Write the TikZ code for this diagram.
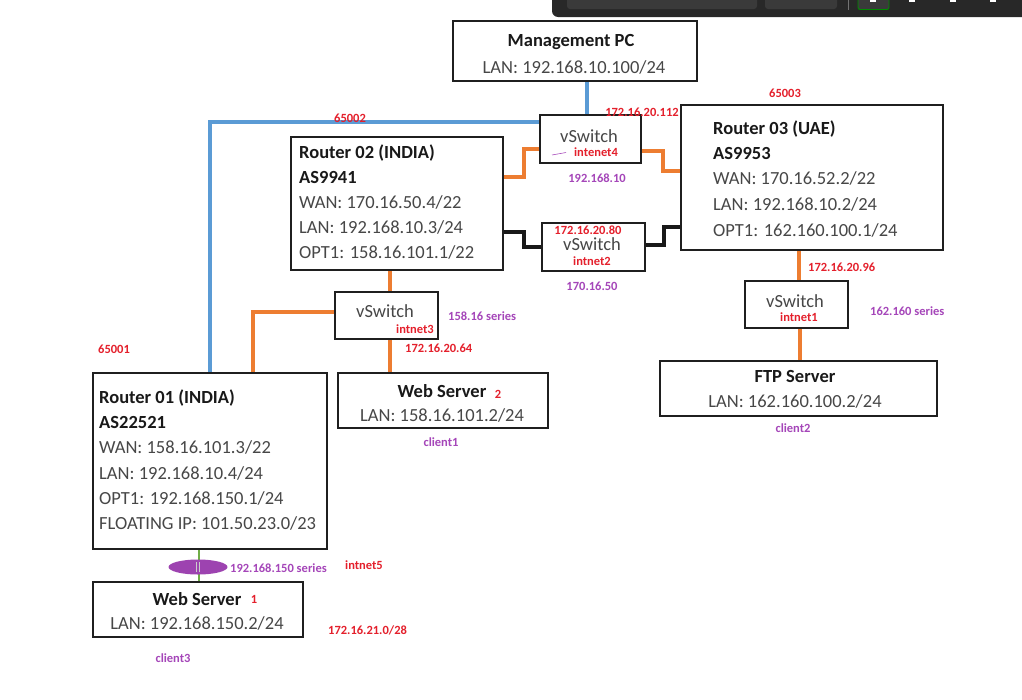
\documentclass[tikz,border=0pt]{standalone}
\usepackage{fontspec}
\setmainfont{Carlito}
\usetikzlibrary{calc,shapes.geometric}
\definecolor{wireorange}{RGB}{237,125,49}
\definecolor{wireblue}{RGB}{91,155,213}
\definecolor{wiregreen}{RGB}{112,173,71}
\definecolor{tagred}{RGB}{228,32,44}
\definecolor{tagpurple}{RGB}{165,70,185}
\definecolor{barback}{RGB}{40,40,40}
\definecolor{barinner}{RGB}{58,58,58}
\def\bigsize{\fontsize{18.5}{22}\selectfont}
\def\tagsize{\fontsize{12.5}{15}\selectfont\bfseries}
\tikzset{
  devbox/.style={draw=black!88, line width=0.7mm, inner sep=0pt},
  plaintext/.style={inner sep=0pt, text=black!72, font=\bigsize},
  boldtext/.style={inner sep=0pt, text=black!90, font=\bigsize\bfseries},
  redtag/.style={inner sep=0pt, text=tagred, font=\tagsize},
  purpletag/.style={inner sep=0pt, text=tagpurple, font=\tagsize},
  orangewire/.style={line width=1.2mm, color=wireorange},
  bluewire/.style={line width=1.1mm, color=wireblue},
  blackwire/.style={line width=1.2mm, color=black!90},
  greenwire/.style={line width=0.8mm, color=wiregreen}
}

\begin{document}
\begin{tikzpicture}[x=1pt, y=-1pt]
			%%%%% START %%%%%
			\useasboundingbox[fill=white] (0,0) rectangle (1022,699);
			
			% window bar, top right
			\fill[barback, rounded corners=6] (552,-12) rectangle (1040,17);
			\fill[barinner, rounded corners=3] (567,-6) rectangle (757,9);
			\fill[barinner, rounded corners=3] (765,-6) rectangle (837,9);
			\draw[line width=0.3mm, color=black!55] (848,0) -- (848,10);
			\draw[line width=0.3mm, color=green!55!black, fill=barinner, rounded corners=2] (858,-6) rectangle (889,9.5);
			\fill[white] (870,0) rectangle (876,1.5);
			\fill[white] (909,0) rectangle (915,1.5);
			\fill[white] (950,0) rectangle (956,1.5);
			\fill[white] (990,0) rectangle (996,1.5);
			
			% boxes
			\node[devbox, minimum width=244, minimum height=60] (mgmt) at (575,51) {};
			\node[devbox, minimum width=212, minimum height=133] (r2) at (397,203.5) {};
			\node[devbox, minimum width=262, minimum height=145] (r3) at (812,177.5) {};
			\node[devbox, minimum width=234, minimum height=176] (r1) at (210,461) {};
			\node[devbox, minimum width=101, minimum height=48] (vs4) at (590.5,139) {};
			\node[devbox, minimum width=103, minimum height=48] (vs2) at (593.5,247) {};
			\node[devbox, minimum width=103, minimum height=47] (vs3) at (386.5,315.5) {};
			\node[devbox, minimum width=103, minimum height=47] (vs1) at (796.5,304.5) {};
			\node[devbox, minimum width=210, minimum height=55] (ws2) at (443,400.5) {};
			\node[devbox, minimum width=277, minimum height=55] (ftp) at (798.5,388.5) {};
			\node[devbox, minimum width=210, minimum height=55] (ws1) at (198,609.5) {};
			
			% wires
			\draw[bluewire] ([xshift=-3.5]vs4.north) -- ([xshift=-3.5]vs4.north |- mgmt.south);
			\draw[bluewire] ([yshift=17]vs4.west) -| (r1.north);
			\draw[orangewire] ([yshift=26.5]r2.east) -- ++(20,0) |- ([yshift=-10]vs4.west);
			\draw[orangewire] ([yshift=-12]vs4.east) -- ++(21,0) |- ([yshift=6.5]r3.west);
			\draw[blackwire] ([yshift=-28.5]r2.east) -- ++(20,0) |- (vs2.west);
			\draw[blackwire] ([yshift=2]vs2.east) -- ++(18,0) |- ([yshift=-49.5]r3.west);
			\draw[orangewire] ([xshift=-7]r2.south) -- ([xshift=-7]r2.south |- vs3.north);
			\draw[orangewire] ([yshift=3.5]vs3.west) -| ([xshift=43]r1.north);
			\draw[orangewire] ([xshift=3.5]vs3.south) -- ([xshift=3.5]vs3.south |- ws2.north);
			\draw[orangewire] ([xshift=-13]r3.south) -- ([xshift=-13]r3.south |- vs1.north);
			\draw[orangewire] ([xshift=3.5]vs1.south) -- ([xshift=3.5]vs1.south |- ftp.north);
			\draw[greenwire] ([xshift=1]ws1.north) -- ([xshift=1]ws1.north |- r1.south);
			
			% intnet5 switch
			\node[ellipse, fill=tagpurple!95!black, minimum width=59, minimum height=15, inner sep=0pt] (sw5) at (198,567) {};
			\draw[line width=0.3mm, color=black!20] ([xshift=-1.5,yshift=5]sw5.center) -- ([xshift=-1.5,yshift=-5]sw5.center);
			\draw[line width=0.3mm, color=black!20] ([xshift=1.5,yshift=5]sw5.center) -- ([xshift=1.5,yshift=-5]sw5.center);
			
			% Management PC
			\node[boldtext, anchor=base] (mgmta) at (571,46) {Management PC};
			\node[plaintext, anchor=base] (mgmtb) at (574,73) {LAN: 192.168.10.100/24};
			
			% Router 02
			\node[boldtext, anchor=base west] (r2a) at (299,158) {Router 02 (INDIA)};
			\node[boldtext, anchor=base west] (r2b) at (299,183) {AS9941};
			\node[plaintext, anchor=base west] (r2c) at (299,208) {WAN: 170.16.50.4/22};
			\node[plaintext, anchor=base west] (r2d) at (299,233) {LAN: 192.168.10.3/24};
			\node[plaintext, anchor=base west] (r2e) at (299,258) {OPT1: 158.16.101.1/22};
			
			% Router 03
			\node[boldtext, anchor=base west] (r3a) at (713,134) {Router 03 (UAE)};
			\node[boldtext, anchor=base west] (r3b) at (713,159) {AS9953};
			\node[plaintext, anchor=base west] (r3c) at (713,184) {WAN: 170.16.52.2/22};
			\node[plaintext, anchor=base west] (r3d) at (713,210) {LAN: 192.168.10.2/24};
			\node[plaintext, anchor=base west] (r3e) at (713,236) {OPT1: 162.160.100.1/24};
			
			% Router 01
			\node[boldtext, anchor=base west] (r1a) at (99,403) {Router 01 (INDIA)};
			\node[boldtext, anchor=base west] (r1b) at (99,428) {AS22521};
			\node[plaintext, anchor=base west] (r1c) at (99,453) {WAN: 158.16.101.3/22};
			\node[plaintext, anchor=base west] (r1d) at (99,479) {LAN: 192.168.10.4/24};
			\node[plaintext, anchor=base west] (r1e) at (99,504) {OPT1: 192.168.150.1/24};
			\node[plaintext, anchor=base west] (r1f) at (99,529) {FLOATING IP: 101.50.23.0/23};
			
			% switches
			\node[plaintext, anchor=base] (vs4a) at (589,142) {vSwitch};
			\node[redtag, anchor=base] (vs4b) at (596,156.5) {intenet4};
			\draw[line width=0.2mm, color=tagpurple] (552,155) -- (566,152.5);
			\node[plaintext, anchor=base] (vs2a) at (592,250) {vSwitch};
			\node[redtag, anchor=base] (vs2b) at (592,265.5) {intnet2};
			\node[plaintext, anchor=base] (vs3a) at (385,317) {vSwitch};
			\node[redtag, anchor=base] (vs3b) at (415,333.5) {intnet3};
			\node[plaintext, anchor=base] (vs1a) at (795,307) {vSwitch};
			\node[redtag, anchor=base] (vs1b) at (799,321.5) {intnet1};
			
			% servers
			\node[boldtext, anchor=base] (ws2a) at (442,397) {Web Server};
			\node[redtag, anchor=base] (ws2n) at (498,398.5) {2};
			\node[plaintext, anchor=base] (ws2b) at (442,421) {LAN: 158.16.101.2/24};
			\node[boldtext, anchor=base] (ftpa) at (795,382) {FTP Server};
			\node[plaintext, anchor=base] (ftpb) at (795,407) {LAN: 162.160.100.2/24};
			\node[boldtext, anchor=base] (ws1a) at (197,605) {Web Server};
			\node[redtag, anchor=base] (ws1n) at (254,603.5) {1};
			\node[plaintext, anchor=base] (ws1b) at (197,629) {LAN: 192.168.150.2/24};
			
			% red tags
			\node[redtag, anchor=base] (as2) at (350,122) {65002};
			\node[redtag, anchor=base] (as3) at (785,97) {65003};
			\node[redtag, anchor=base west] (as1) at (98,353.5) {65001};
			\node[redtag, anchor=base] (ip112) at (642,116) {172.16.20.112};
			\node[redtag, anchor=base] (ip80) at (588,234.5) {172.16.20.80};
			\node[redtag, anchor=base west] (ip96) at (808,271.5) {172.16.20.96};
			\node[redtag, anchor=base west] (ip64) at (405,352.5) {172.16.20.64};
			\node[redtag, anchor=base west] (nt5) at (345,569.5) {intnet5};
			\node[redtag, anchor=base west] (ip21) at (328,634.5) {172.16.21.0/28};
			
			% purple tags
			\node[purpletag, anchor=base] (net10) at (597,182.5) {192.168.10};
			\node[purpletag, anchor=base] (net50) at (592,290) {170.16.50};
			\node[purpletag, anchor=base west] (net158) at (448,320.5) {158.16 series};
			\node[purpletag, anchor=base west] (net162) at (870,315.5) {162.160 series};
			\node[purpletag, anchor=base west] (net150) at (230,572.5) {192.168.150 series};
			\node[purpletag, anchor=base] (cl1) at (441,446) {client1};
			\node[purpletag, anchor=base] (cl2) at (793,432.5) {client2};
			\node[purpletag, anchor=base] (cl3) at (173,662.5) {client3};
			
			%%%%% END %%%%%
\end{tikzpicture}
\end{document}
